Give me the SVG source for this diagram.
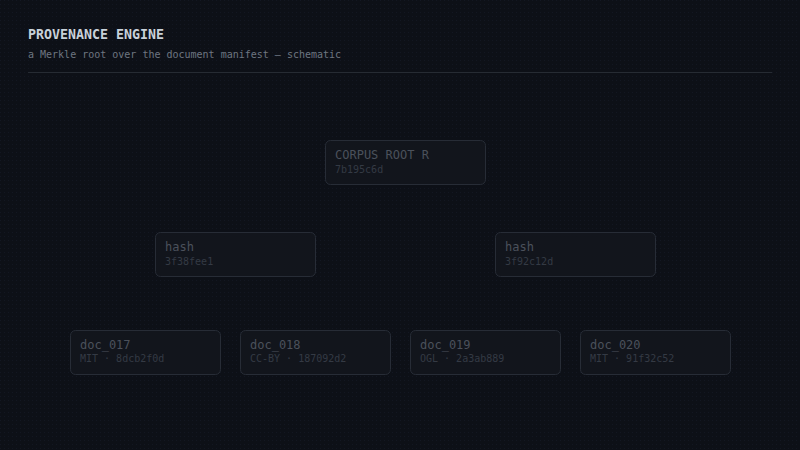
<svg xmlns="http://www.w3.org/2000/svg" width="800" height="450" viewBox="0 0 800 450">
<style>
.title{font-family:"DejaVu Sans Mono",monospace;font-size:13.3px;font-weight:bold;fill:#c9d1d9}
.sub{font-family:"DejaVu Sans Mono",monospace;font-size:10px;fill:#6e7681}
.box{fill:#12151c;stroke:#272c36;stroke-width:1}
.lbl{font-family:"DejaVu Sans Mono",monospace;font-size:12px;fill:#4b515b}
.hx{font-family:"DejaVu Sans Mono",monospace;font-size:10px;fill:#343a44}
</style>
<defs>
<pattern id="dots" width="4" height="4" patternUnits="userSpaceOnUse">
<rect x="0" y="0" width="1" height="1" fill="#131722"/>
</pattern>
</defs>
<rect width="800" height="450" fill="#0d1017"/>
<rect width="800" height="450" fill="url(#dots)"/>
<text class="title" x="28" y="39">PROVENANCE ENGINE</text>
<text class="sub" x="28" y="58">a Merkle root over the document manifest — schematic</text>
<line x1="28" y1="72.5" x2="772" y2="72.5" stroke="#262b33" stroke-width="1"/>
<g id="connectors"></g>
<g id="root"><rect class="box" x="325.5" y="140.5" width="160" height="44" rx="5"/><text class="lbl" x="335" y="159">CORPUS ROOT R</text><text class="hx" x="335" y="173">7b195c6d</text></g>
<g id="hashL"><rect class="box" x="155.5" y="232.5" width="160" height="44" rx="5"/><text class="lbl" x="165" y="251">hash</text><text class="hx" x="165" y="265">3f38fee1</text></g>
<g id="hashR"><rect class="box" x="495.5" y="232.5" width="160" height="44" rx="5"/><text class="lbl" x="505" y="251">hash</text><text class="hx" x="505" y="265">3f92c12d</text></g>
<g id="doc017"><rect class="box" x="70.5" y="330.5" width="150" height="44" rx="5"/><text class="lbl" x="80" y="349">doc_017</text><text class="hx" x="80" y="362">MIT · 8dcb2f0d</text></g>
<g id="doc018"><rect class="box" x="240.5" y="330.5" width="150" height="44" rx="5"/><text class="lbl" x="250" y="349">doc_018</text><text class="hx" x="250" y="362">CC-BY · 187092d2</text></g>
<g id="doc019"><rect class="box" x="410.5" y="330.5" width="150" height="44" rx="5"/><text class="lbl" x="420" y="349">doc_019</text><text class="hx" x="420" y="362">OGL · 2a3ab889</text></g>
<g id="doc020"><rect class="box" x="580.5" y="330.5" width="150" height="44" rx="5"/><text class="lbl" x="590" y="349">doc_020</text><text class="hx" x="590" y="362">MIT · 91f32c52</text></g>
</svg>
